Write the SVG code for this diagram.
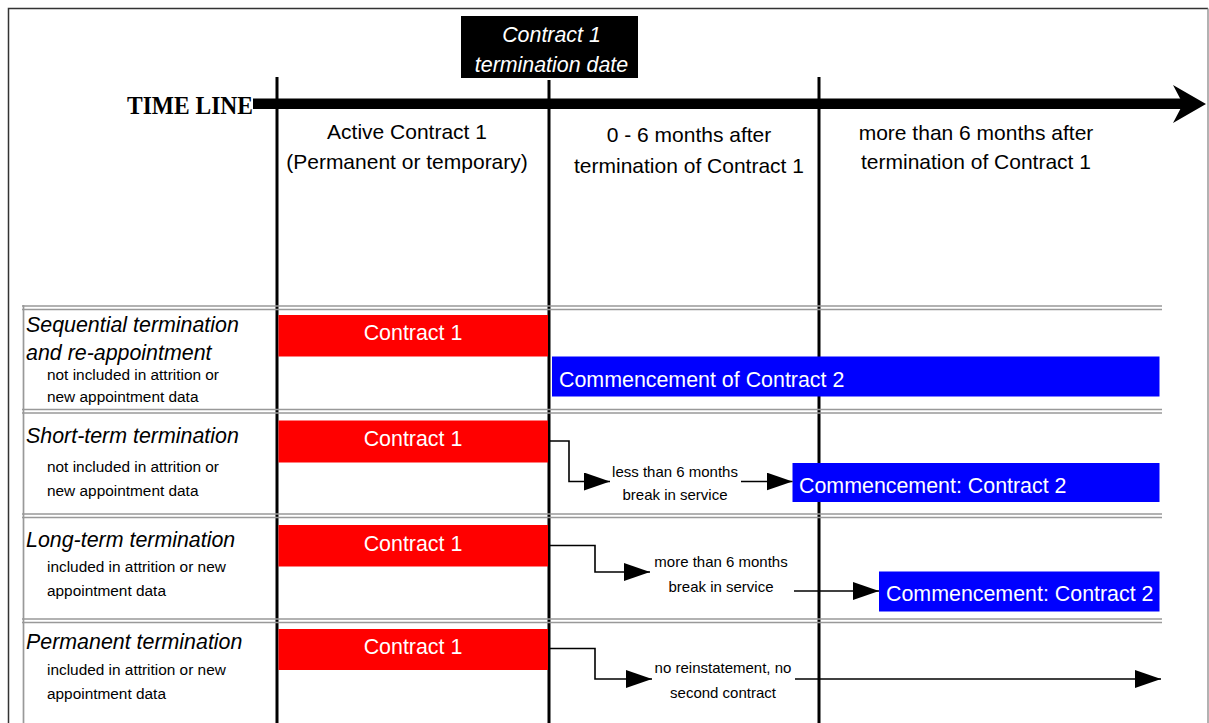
<svg xmlns="http://www.w3.org/2000/svg" width="1209" height="723" viewBox="0 0 1209 723">
<style>
.hdr{font-family:"Liberation Sans",Arial,sans-serif;font-size:21px;fill:#000;text-anchor:middle}
.lbl{font-family:"Liberation Sans",Arial,sans-serif;font-size:21.4px;font-style:italic;fill:#000}
.sm{font-family:"Liberation Sans",Arial,sans-serif;font-size:15.4px;fill:#000}
.smc{font-family:"Liberation Sans",Arial,sans-serif;font-size:15px;fill:#000;text-anchor:middle}
.wt{font-family:"Liberation Sans",Arial,sans-serif;font-size:21.4px;fill:#fff}
.wtc{font-family:"Liberation Sans",Arial,sans-serif;font-size:21.4px;fill:#fff;text-anchor:middle}
.red{fill:#ff0000}
.blue{fill:#0000ff}
.sep{stroke:#999;stroke-width:1.7;fill:none}
.vl{stroke:#000;stroke-width:3;fill:none}
.con{stroke:#000;stroke-width:1.6;fill:none;marker-end:url(#ah)}
</style>
<defs>
<marker id="ah" markerUnits="userSpaceOnUse" markerWidth="26" markerHeight="18" refX="26" refY="9" orient="auto">
<path d="M0,0 L26,9 L0,18 Z" fill="#000"/>
</marker>
</defs>
<rect width="1209" height="723" fill="#fff"/>
<path d="M8.5,723 V8.5 H1208" fill="none" stroke="#333" stroke-width="1.5"/>
<path d="M1208,8.5 V723" fill="none" stroke="#999" stroke-width="1.5"/>

<g id="timeline">
<rect x="253" y="98.5" width="932" height="10.5" fill="#000"/>
<polygon points="1173,85 1206,104 1173,123 1183,104" fill="#000"/>
<text x="127" y="114" font-family="Liberation Serif,'Times New Roman',serif" font-size="25" font-weight="bold" textLength="126" lengthAdjust="spacingAndGlyphs">TIME LINE</text>
</g>

<g id="grid">
<path class="vl" d="M277,77 V723 M549,80 V723 M819,77 V723"/>
<path class="sep" d="M23.5,305 V723"/>
<path class="sep" d="M22,306 H1162 M22,309.5 H1162 M22,409.5 H1162 M22,413 H1162 M22,514 H1162 M22,517.5 H1162 M22,619 H1162 M22,622.5 H1162"/>
</g>

<g id="termination-date">
<rect x="461" y="16" width="177" height="62" fill="#000"/>
<text class="wtc" x="551.5" y="42" font-style="italic">Contract 1</text>
<text class="wtc" x="551.5" y="72" font-style="italic">termination date</text>
</g>

<g id="col-active">
<text class="hdr" x="407" y="138.5">Active Contract 1</text>
<text class="hdr" x="407" y="168.5">(Permanent or temporary)</text>
</g>
<g id="col-0-6">
<text class="hdr" x="689" y="142">0 - 6 months after</text>
<text class="hdr" x="689" y="172.5">termination of Contract 1</text>
</g>
<g id="col-more6">
<text class="hdr" x="976" y="139.5">more than 6 months after</text>
<text class="hdr" x="976" y="168.5">termination of Contract 1</text>
</g>

<g id="row-sequential">
<text class="lbl" x="26" y="332">Sequential termination</text>
<text class="lbl" x="26" y="360">and re-appointment</text>
<text class="sm" x="47" y="380">not included in attrition or</text>
<text class="sm" x="47" y="402">new appointment data</text>
<rect class="red" x="278.5" y="315" width="269.5" height="41.5"/>
<text class="wtc" x="413" y="340">Contract 1</text>
<rect class="blue" x="552" y="356.5" width="607.5" height="40"/>
<text class="wt" x="559" y="387">Commencement of Contract 2</text>
</g>

<g id="row-short">
<text class="lbl" x="26" y="443">Short-term termination</text>
<text class="sm" x="47" y="472">not included in attrition or</text>
<text class="sm" x="47" y="496">new appointment data</text>
<rect class="red" x="278.5" y="420.5" width="269.5" height="42"/>
<text class="wtc" x="413" y="446">Contract 1</text>
<text class="smc" x="675" y="477">less than 6 months</text>
<text class="smc" x="675" y="500">break in service</text>
<rect class="blue" x="792.5" y="463" width="367" height="39"/>
<text class="wt" x="799" y="493">Commencement: Contract 2</text>
</g>

<g id="row-long">
<text class="lbl" x="26" y="547">Long-term termination</text>
<text class="sm" x="47" y="572">included in attrition or new</text>
<text class="sm" x="47" y="596">appointment data</text>
<rect class="red" x="278.5" y="525" width="269.5" height="41.5"/>
<text class="wtc" x="413" y="551">Contract 1</text>
<text class="smc" x="721" y="567">more than 6 months</text>
<text class="smc" x="721" y="592">break in service</text>
<rect class="blue" x="879" y="571.5" width="280.5" height="40"/>
<text class="wt" x="886" y="600.5">Commencement: Contract 2</text>
</g>

<g id="row-permanent">
<text class="lbl" x="26" y="648.5">Permanent termination</text>
<text class="sm" x="47" y="675">included in attrition or new</text>
<text class="sm" x="47" y="699">appointment data</text>
<rect class="red" x="278.5" y="629" width="269.5" height="41"/>
<text class="wtc" x="413" y="654">Contract 1</text>
<text class="smc" x="723" y="673">no reinstatement, no</text>
<text class="smc" x="723" y="698">second contract</text>
</g>

<g id="connectors">
<path class="con" d="M548,441 H569 V481.5 H610"/>
<path class="con" d="M741,481.5 H792.5"/>
<path class="con" d="M548,545.5 H595 V572 H650"/>
<path class="con" d="M794,591 H879"/>
<path class="con" d="M548,648.5 H595 V679 H652"/>
<path class="con" d="M795,679 H1161"/>
</g>
</svg>
